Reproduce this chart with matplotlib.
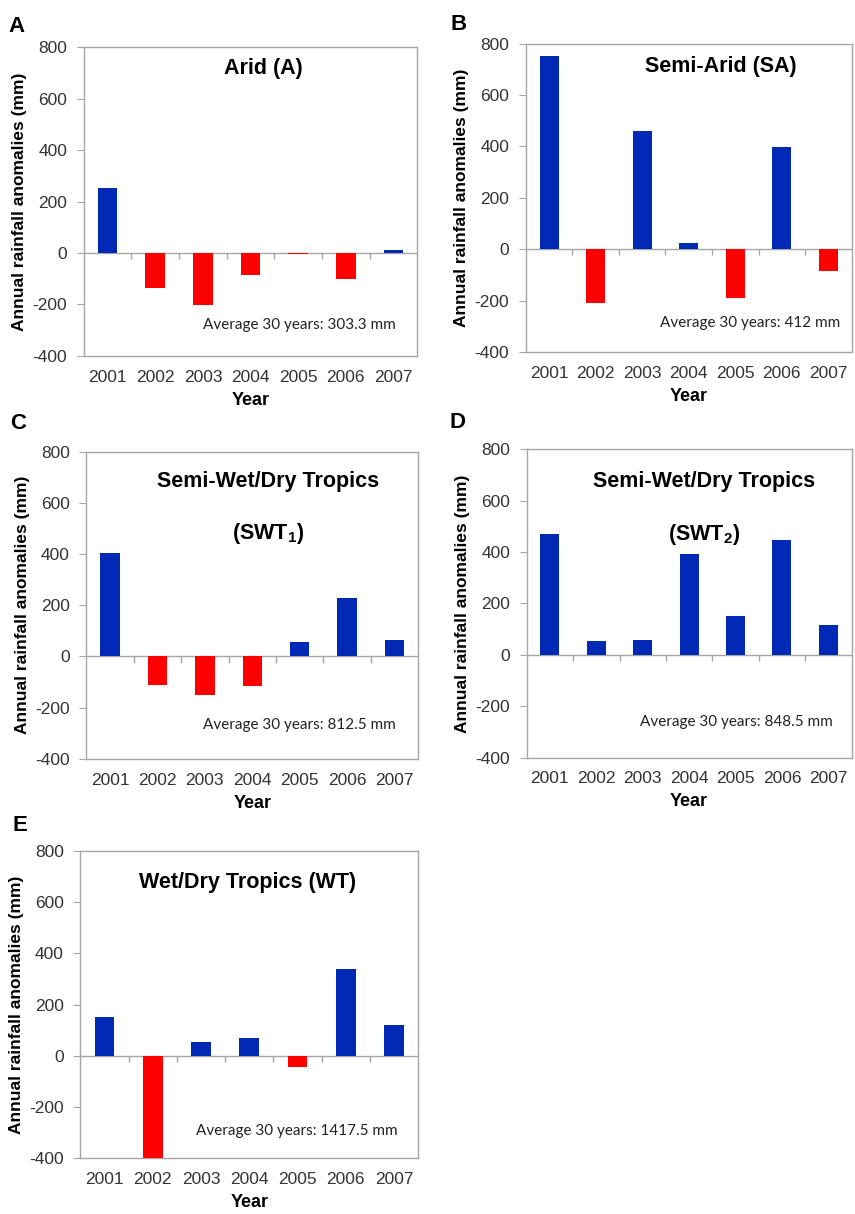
import matplotlib
matplotlib.use('Agg')
from matplotlib import pyplot as plt
import numpy as np

# Daten
jahre = ['2001', '2002', '2003', '2004', '2005', '2006', '2007']
werte_A = [252, -138, -203, -87, -6, -101, 10]
werte_SA = [753, -210, 460, 25, -188, 399, -86]
werte_SWT1 = [405, -113, -151, -116, 57, 230, 64]
werte_SWT2 = [468, 55, 56, 391, 149, 445, 117]
werte_WT = [152, -400, 53, 69, -44, 338, 121]

titel = ['Arid (A)', 'Semi-Arid (SA)', 'Semi-Wet/Dry Tropics',
         'Semi-Wet/Dry Tropics', 'Wet/Dry Tropics (WT)']
titel_2 = ['', '', '(SWT$_\\mathbf{1}$)', '(SWT$_\\mathbf{2}$)', '']
mittel = ['Average 30 years: 303.3 mm', 'Average 30 years: 412 mm',
          'Average 30 years: 812.5 mm', 'Average 30 years: 848.5 mm',
          'Average 30 years: 1417.5 mm']
buchstaben = ['A', 'B', 'C', 'D', 'E']
y_ticks = [-400, -200, 0, 200, 400, 600, 800]

plt.rcParams['font.family'] = 'Liberation Sans'
plt.rcParams['axes.unicode_minus'] = False
plt.rcParams['mathtext.fontset'] = 'custom'
plt.rcParams['mathtext.bf'] = 'Liberation Sans:bold'
plt.rcParams['mathtext.rm'] = 'Liberation Sans'

blau = '#0029B5'
rot = '#FF0000'
grau = '#A6A6A6'

fig = plt.figure(figsize=(8.55, 12.14), dpi=100)

# Achsenpositionen [links, unten, breite, hoehe]
positionen = [
    [0.098, 0.707, 0.390, 0.254],
    [0.615, 0.710, 0.381, 0.254],
    [0.101, 0.375, 0.388, 0.253],
    [0.616, 0.376, 0.380, 0.254],
    [0.094, 0.046, 0.395, 0.253],
]
titel_pos = [(0.54, 0.93), (0.60, 0.925), (0.547, 0.903), (0.545, 0.896), (0.494, 0.897)]
titel_2_pos = [None, None, (0.547, 0.733), (0.545, 0.724), None]
mittel_pos = [(0.646, 0.10), (0.689, 0.093), (0.642, 0.111), (0.646, 0.115), (0.64, 0.088)]
buchst_pos = [(0.010, 0.978), (0.527, 0.980), (0.012, 0.651), (0.526, 0.652), (0.015, 0.320)]

alle_werte = [werte_A, werte_SA, werte_SWT1, werte_SWT2, werte_WT]
x = np.arange(len(jahre))

for i, werte in enumerate(alle_werte):
    ax = fig.add_axes(positionen[i])
    farben = [blau if w >= 0 else rot for w in werte]
    ax.bar(x, werte, width=0.41, color=farben, zorder=3)
    ax.set_xlim(-0.5, len(jahre) - 0.5)
    ax.set_ylim(-400, 800)
    ax.set_yticks(y_ticks)
    ax.set_xticks(x)
    ax.set_xticklabels(jahre)

    # Nulllinie mit Teilstrichen zwischen den Kategorien
    ax.axhline(0, color=grau, linewidth=1.0, zorder=2)
    grenzen = x[:-1] + 0.5
    ax.vlines(grenzen, -24, 0, color=grau, linewidth=1.0, zorder=2)

    for s in ax.spines.values():
        s.set_color(grau)
        s.set_linewidth(1.0)
    ax.tick_params(axis='x', length=0, pad=10, labelsize=12.5, labelcolor='#333333')
    ax.tick_params(axis='y', length=5, color=grau, pad=7, labelsize=12.5, labelcolor='#333333')

    ax.set_xlabel('Year', fontsize=13, fontweight='bold', labelpad=5)
    ax.set_ylabel('Annual rainfall anomalies (mm)', fontsize=12.5, fontweight='bold', labelpad=4)

    ax.text(titel_pos[i][0], titel_pos[i][1], titel[i], transform=ax.transAxes,
            ha='center', va='center', fontsize=15.5, fontweight='bold')
    if titel_2[i]:
        ax.text(titel_2_pos[i][0], titel_2_pos[i][1], titel_2[i], transform=ax.transAxes,
                ha='center', va='center', fontsize=15.5, fontweight='bold')
    ax.text(mittel_pos[i][0], mittel_pos[i][1], mittel[i], transform=ax.transAxes,
            ha='center', va='center', fontsize=11, family='Lato', color='#222222')
    fig.text(buchst_pos[i][0], buchst_pos[i][1], buchstaben[i], fontsize=16,
             fontweight='bold', ha='left', va='center')

fig.savefig('out.png', dpi=100)
